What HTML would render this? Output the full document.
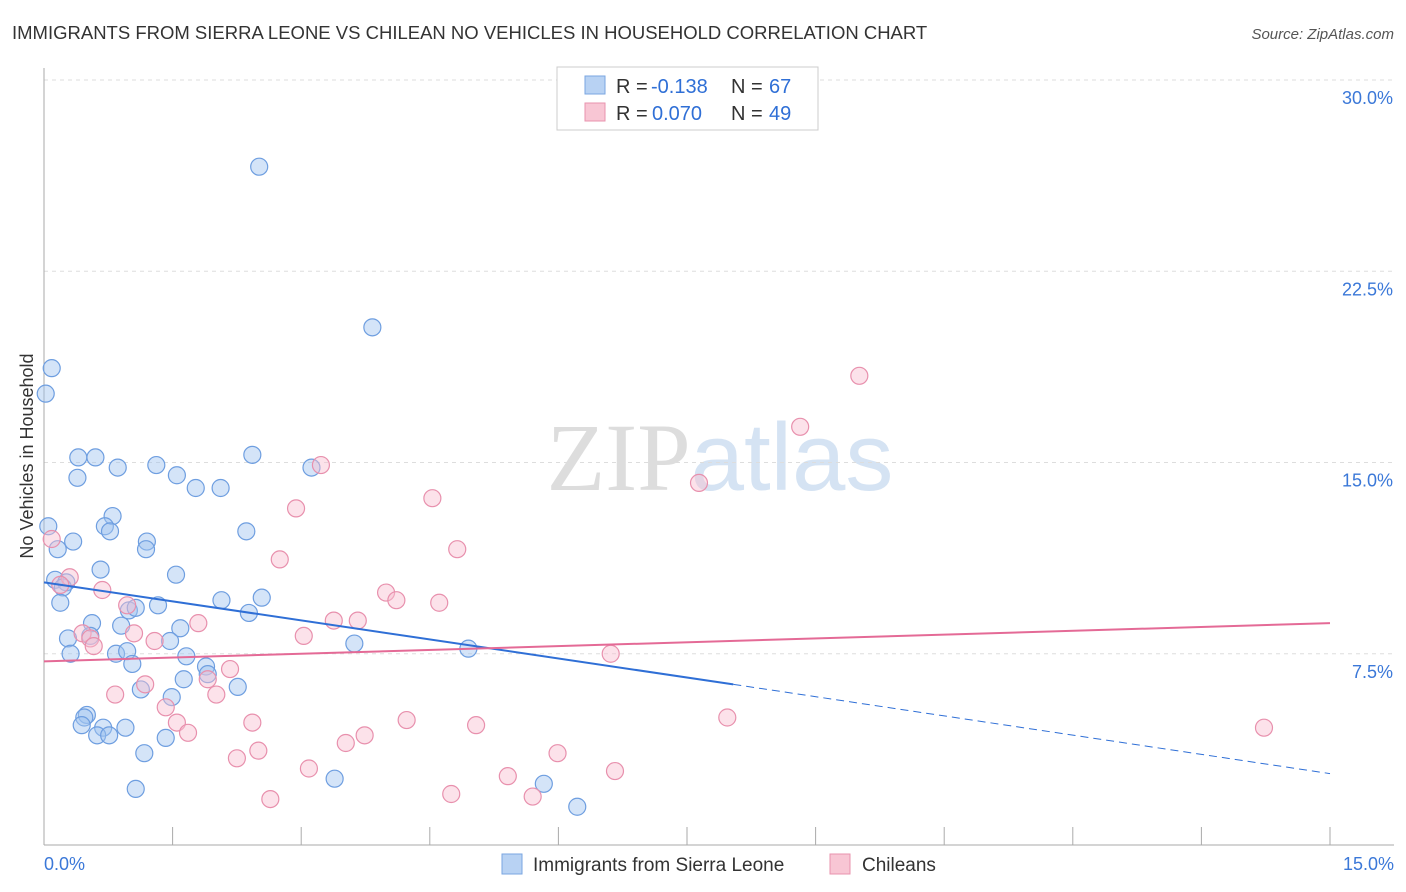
<!DOCTYPE html>
<html><head><meta charset="utf-8"><style>
body{margin:0;background:#fff;font-family:"Liberation Sans",sans-serif;}
svg{display:block}
</style></head><body>
<svg id="chart" width="1406" height="892" xmlns="http://www.w3.org/2000/svg">
<text x="12" y="39" font-size="18.5" fill="#333">IMMIGRANTS FROM SIERRA LEONE VS CHILEAN NO VEHICLES IN HOUSEHOLD CORRELATION CHART</text>
<text x="1394" y="39" font-size="15" fill="#555" text-anchor="end" font-style="italic">Source: ZipAtlas.com</text>
<text x="720" y="490" font-size="96" text-anchor="middle" font-family="Liberation Serif,serif"><tspan fill="#ddd">ZIP</tspan><tspan fill="#d5e3f3" font-family="Liberation Sans,sans-serif">atlas</tspan></text>
<text transform="translate(33,456) rotate(-90)" font-size="18" fill="#333" text-anchor="middle">No Vehicles in Household</text>
<g id="grid"></g><g id="axes"></g><g id="marks"></g>
<g>
<rect x="557" y="67" width="261" height="63" fill="#fff" stroke="#ccc"/>
<rect x="585" y="76" width="20" height="18" fill="#b8d2f3" stroke="#7aa6e0"/>
<rect x="585" y="103" width="20" height="18" fill="#f8c6d4" stroke="#e893ae"/>
<text x="616" y="93" font-size="20" fill="#333">R =</text>
<text x="651" y="93" font-size="20" fill="#2f6fd6">-0.138</text>
<text x="731" y="93" font-size="20" fill="#333">N =</text>
<text x="769" y="93" font-size="20" fill="#2f6fd6">67</text>
<text x="616" y="120" font-size="20" fill="#333">R =</text>
<text x="652" y="120" font-size="20" fill="#2f6fd6">0.070</text>
<text x="731" y="120" font-size="20" fill="#333">N =</text>
<text x="769" y="120" font-size="20" fill="#2f6fd6">49</text>
</g>
<g>
<rect x="502" y="854" width="20" height="20" fill="#b8d2f3" stroke="#7aa6e0"/>
<text x="533" y="871" font-size="19" fill="#333">Immigrants from Sierra Leone</text>
<rect x="830" y="854" width="20" height="20" fill="#f8c6d4" stroke="#e893ae"/>
<text x="862" y="871" font-size="19" fill="#333">Chileans</text>
</g>
</svg>
<script>
const yTicks=[7.5,15,22.5,30];
const yTickLabels=["7.5%","15.0%","22.5%","30.0%"];
const xTicks=[0,1.5,3,4.5,6,7.5,9,10.5,12,13.5,15];
const blueX=[2.51,3.83,0.09,0.02,0.40,0.60,0.86,1.31,1.55,0.39,1.77,2.06,2.43,3.12,0.05,0.80,0.71,0.77,2.36,0.34,0.16,1.20,1.19,0.66,1.54,0.13,0.26,0.22,0.19,0.99,1.07,1.33,2.07,2.54,2.39,0.28,0.56,0.90,1.59,0.54,1.47,0.31,0.84,0.97,1.03,1.66,1.89,1.91,1.63,2.26,1.13,1.49,0.50,0.47,0.44,0.69,0.95,0.62,0.76,1.42,1.17,3.62,4.95,3.39,5.83,1.07,6.22];
const blueY=[26.6,20.3,18.7,17.7,15.2,15.2,14.8,14.9,14.5,14.4,14.0,14.0,15.3,14.8,12.5,12.9,12.5,12.3,12.3,11.9,11.6,11.9,11.6,10.8,10.6,10.4,10.3,10.1,9.5,9.2,9.3,9.4,9.6,9.7,9.1,8.1,8.7,8.6,8.5,8.2,8.0,7.5,7.5,7.6,7.1,7.4,7.0,6.7,6.5,6.2,6.1,5.8,5.1,5.0,4.7,4.6,4.6,4.3,4.3,4.2,3.6,7.9,7.7,2.6,2.4,2.2,1.5];
const pinkX=[9.51,8.82,7.64,3.23,4.53,2.94,4.82,2.75,0.09,0.30,0.19,0.68,3.99,4.11,4.61,0.97,3.38,3.66,1.80,0.45,1.05,3.03,0.54,1.29,0.58,6.61,2.17,1.91,1.18,0.83,2.01,1.42,1.55,2.43,4.23,5.04,1.68,7.97,3.74,3.52,2.50,2.25,5.99,14.23,3.09,5.41,6.66,4.75,5.70,2.64];
const pinkY=[18.4,16.4,14.2,14.9,13.6,13.2,11.6,11.2,12.0,10.5,10.2,10.0,9.9,9.6,9.5,9.4,8.8,8.8,8.7,8.3,8.3,8.2,8.1,8.0,7.8,7.5,6.9,6.5,6.3,5.9,5.9,5.4,4.8,4.8,4.9,4.7,4.4,5.0,4.3,4.0,3.7,3.4,3.6,4.6,3.0,2.7,2.9,2.0,1.9,1.8];
const blueTrend=[[0,10.3],[8.04,6.3],[15,2.8]];
const pinkTrend=[[0,7.2],[15,8.7]];
const NS="http://www.w3.org/2000/svg";
const X0=44,X1=1330,Y0=845,Y1=80;
const sx=v=>X0+(v/15)*(X1-X0);
const sy=v=>Y0-(v/30)*(Y0-Y1);
function mk(tag,attrs,parent){const e=document.createElementNS(NS,tag);for(const k in attrs)e.setAttribute(k,attrs[k]);document.getElementById(parent).appendChild(e);return e;}
yTicks.forEach((t,i)=>{
 const g=mk('line',{x1:X0,x2:1394,y1:sy(t),y2:sy(t),stroke:'#ddd','stroke-dasharray':'4,4'},'grid');
 
 
 const l=mk('text',{x:1393,y:sy(t)+24,'font-size':18,fill:'#3b78d8','text-anchor':'end'},'axes');
 l.textContent=yTickLabels[i];
 
 
});
const ax=mk('line',{x1:X0,x2:1394,y1:Y0,y2:Y0,stroke:'#aaa'},'axes');


const ay=mk('line',{x1:X0,x2:X0,y1:68,y2:Y0,stroke:'#aaa'},'axes');


xTicks.forEach(t=>{
 const e=mk('line',{x1:sx(t),x2:sx(t),y1:Y0,y2:Y0-18,stroke:'#aaa'},'axes');
 
 
});
const xl0=mk('text',{x:44,y:870,'font-size':18,fill:'#3b78d8'},'axes');xl0.textContent='0.0%';


const xl1=mk('text',{x:1394,y:870,'font-size':18,fill:'#3b78d8','text-anchor':'end'},'axes');xl1.textContent='15.0%';


blueX.forEach((v,i)=>{
 const c=mk('circle',{cx:sx(v),cy:sy(blueY[i]),r:8.5,fill:'rgba(160,195,240,0.45)',stroke:'#6e9ee0','stroke-width':1.2},'marks');
 
 
});
pinkX.forEach((v,i)=>{
 const c=mk('circle',{cx:sx(v),cy:sy(pinkY[i]),r:8.5,fill:'rgba(248,190,208,0.45)',stroke:'#e890ad','stroke-width':1.2},'marks');
 
 
});
const b1=mk('line',{x1:sx(blueTrend[0][0]),y1:sy(blueTrend[0][1]),x2:sx(blueTrend[1][0]),y2:sy(blueTrend[1][1]),stroke:'#2f6fd6','stroke-width':2},'marks');


const b2=mk('line',{x1:sx(blueTrend[1][0]),y1:sy(blueTrend[1][1]),x2:sx(blueTrend[2][0]),y2:sy(blueTrend[2][1]),stroke:'#2f6fd6','stroke-width':1,'stroke-dasharray':'8,5'},'marks');


const p1=mk('line',{x1:sx(pinkTrend[0][0]),y1:sy(pinkTrend[0][1]),x2:sx(pinkTrend[1][0]),y2:sy(pinkTrend[1][1]),stroke:'#e46a96','stroke-width':2},'marks');


</script>
</body></html>
